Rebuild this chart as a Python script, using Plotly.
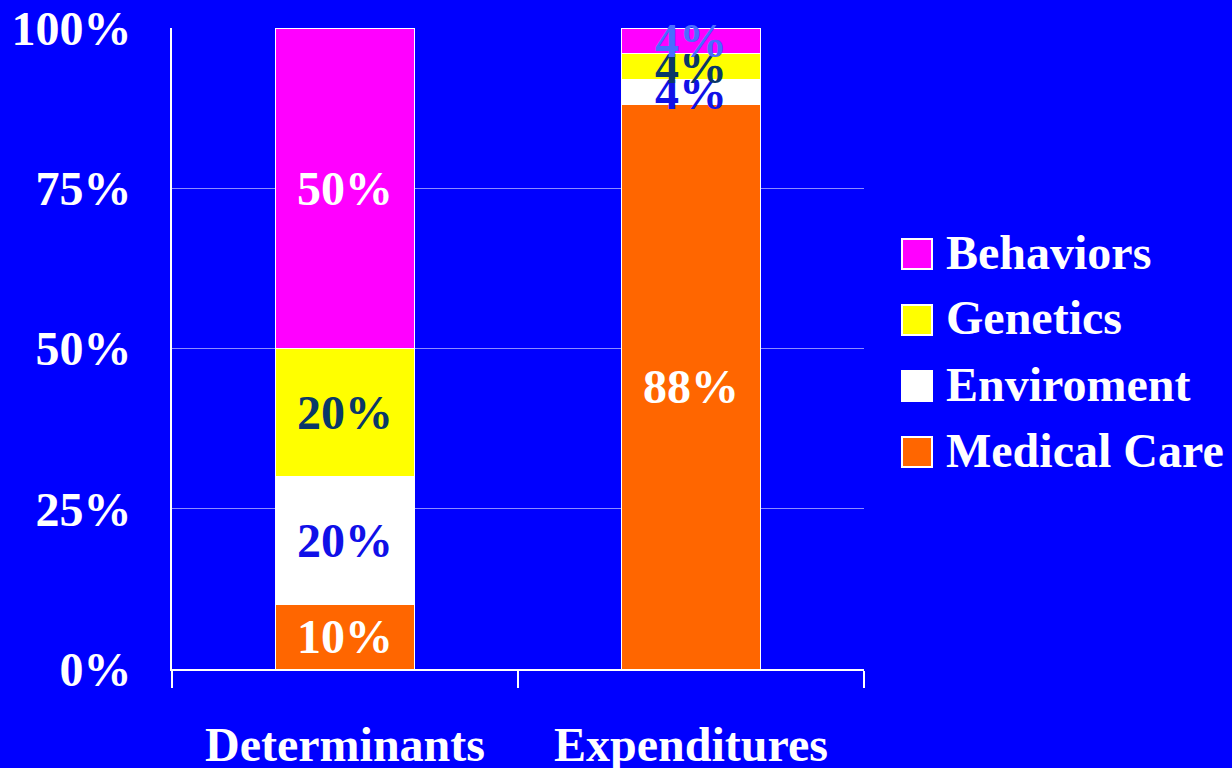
import plotly.graph_objects as go

# Data
categories = ["Determinants", "Expenditures"]
series_names = ["Medical Care", "Enviroment", "Genetics", "Behaviors"]
medical_care = [10, 88]
enviroment = [20, 4]
genetics = [20, 4]
behaviors = [50, 4]
y_ticks = [0, 25, 50, 75, 100]
y_tick_labels = ["0%", "25%", "50%", "75%", "100%"]

# Styling
BG = "#0000FF"
FONT = "Liberation Serif"
FS = 48
fills = {
    "Medical Care": "#FF6600",
    "Enviroment": "#FFFFFF",
    "Genetics": "#FFFF00",
    "Behaviors": "#FF00FF",
}
label_colors = {
    "Medical Care": ["#FFFFFF", "#FFFFFF"],
    "Enviroment": ["#1010E8", "#1010E8"],
    "Genetics": ["#0A3868", "#0A3868"],
    "Behaviors": ["#FFFFFF", "#4A6CFF"],
}
values = {
    "Medical Care": medical_care,
    "Enviroment": enviroment,
    "Genetics": genetics,
    "Behaviors": behaviors,
}

W, H = 1232, 768
ML, MR, MT, MB = 172, 368, 28, 99

fig = go.Figure()
for name in series_names:
    vals = values[name]
    fig.add_trace(go.Bar(
        x=categories,
        y=vals,
        name=name,
        marker=dict(color=fills[name], line=dict(color="#FFFFFF", width=1)),
        text=[f"{v}%" for v in vals],
        textposition="inside",
        insidetextanchor="middle",
        constraintext="none",
        textangle=0,
        textfont=dict(family=FONT, size=FS, color=label_colors[name], weight="bold"),
        showlegend=False,
        cliponaxis=False,
    ))

# Legend drawn as large swatches with labels (top entry = top of stack)
pw = W - ML - MR
ph = H - MT - MB


def px_x(x):
    return (x - ML) / pw


def px_y(y):
    return (H - MB - y) / ph


legend_order = ["Behaviors", "Genetics", "Enviroment", "Medical Care"]
row0, row_gap, sw = 254, 66, 30
for i, name in enumerate(legend_order):
    cy = row0 + i * row_gap
    fig.add_shape(
        type="rect", xref="paper", yref="paper",
        x0=px_x(902), x1=px_x(902 + sw),
        y0=px_y(cy + sw / 2), y1=px_y(cy - sw / 2),
        fillcolor=fills[name], line=dict(color="#FFFFFF", width=2),
    )
    fig.add_annotation(
        xref="paper", yref="paper", x=px_x(944), y=px_y(cy - 2),
        xanchor="left", yanchor="middle", showarrow=False,
        text=name, font=dict(family=FONT, size=FS, color="#FFFFFF", weight="bold"),
    )

fig.update_layout(
    barmode="stack",
    bargap=0.6,
    width=W, height=H,
    margin=dict(l=ML, r=MR, t=MT, b=MB, pad=0),
    paper_bgcolor=BG,
    plot_bgcolor=BG,
    font=dict(family=FONT, size=FS, color="#FFFFFF"),
    showlegend=False,
    xaxis=dict(
        automargin=False,
        showline=True, linecolor="#FFFFFF", linewidth=2,
        ticks="outside", tickson="boundaries", ticklen=17, tickcolor="#FFFFFF", tickwidth=2,
        tickfont=dict(family=FONT, size=FS, color="#FFFFFF", weight="bold"),
        showgrid=False, zeroline=False,
        ticklabelstandoff=32,
    ),
    yaxis=dict(
        automargin=False,
        range=[0, 100],
        tickvals=y_ticks, ticktext=y_tick_labels,
        tickfont=dict(family=FONT, size=FS, color="#FFFFFF", weight="bold"),
        showline=True, linecolor="#FFFFFF", linewidth=2,
        showgrid=True, gridcolor="#8C8CFF", gridwidth=1,
        zeroline=False, ticks="",
        ticklabelstandoff=29,
    ),
)

fig.write_html("out.html")
